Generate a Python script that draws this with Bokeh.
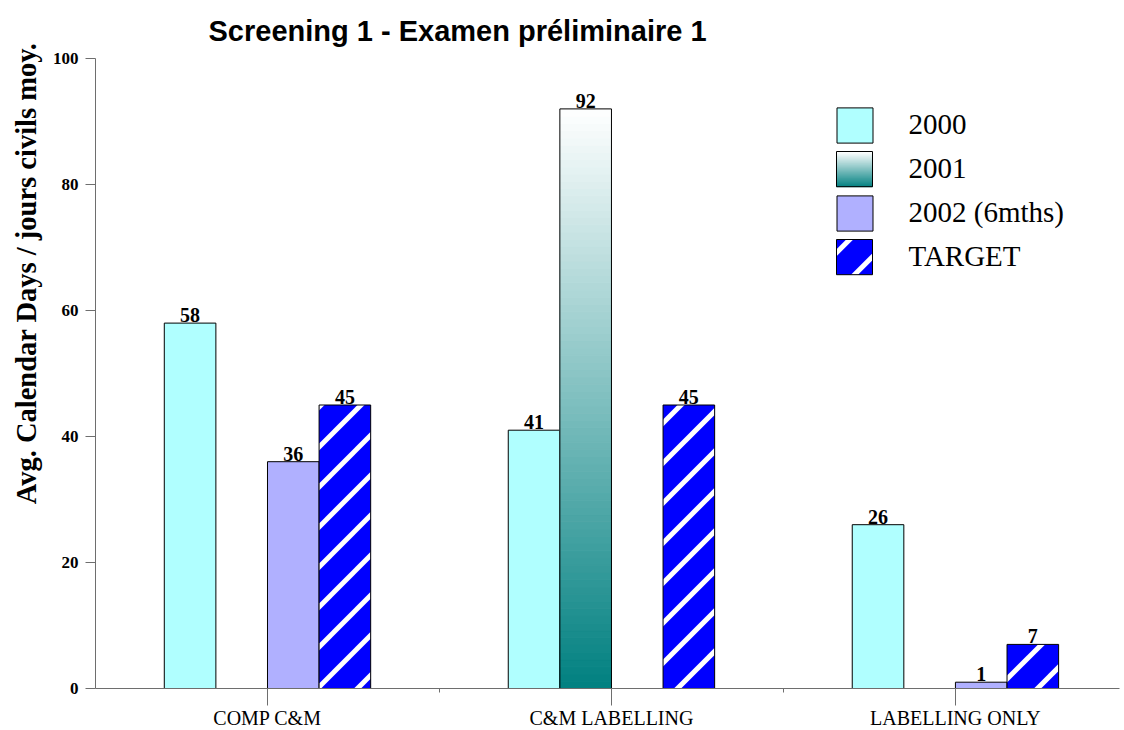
import math
from bokeh.plotting import figure
from bokeh.models import (Range1d, FixedTicker, Legend, LegendItem, Title,
                          ColumnDataSource)
from bokeh.embed import file_html
from bokeh.resources import INLINE
from bokeh.core.properties import value

# ---------------- data ----------------
categories = ["COMP C&M", "C&M LABELLING", "LABELLING ONLY"]
series_names = ["2000", "2001", "2002 (6mths)", "TARGET"]
values_2000 = [58, 41, 26]
values_2001 = [0, 92, 0]
values_2002 = [36, 0, 1]
values_target = [45, 45, 7]
y_ticks = [0, 20, 40, 60, 80, 100]
title_text = "Screening 1 -  Examen préliminaire 1"
y_label_text = "Avg. Calendar Days / jours civils moy."

# ---------------- style ----------------
SERIF = "Liberation Serif"
SANS = "Liberation Sans"
C_2000 = "#b0ffff"
C_2002 = "#b0b0ff"
C_TARGET = "#0000ff"
GRAD_BOTTOM = (0, 128, 128)
GRAD_TOP = (255, 255, 255)
AXIS_GRAY = "#6e6e6e"
STRIPE_PITCH = 40      # px, along the vertical
STRIPE_WIDTH = 5       # px, perpendicular
STRIPE_PHASE = 18

FRAME_W, FRAME_H = 1024, 630
X_MAX, Y_MAX = 2.977, 100
px2x = X_MAX / FRAME_W
px2y = Y_MAX / FRAME_H

centers = [i + 0.5 for i in range(len(categories))]
bar_w = 0.15
offsets = [-1.5 * bar_w, -0.5 * bar_w, 0.5 * bar_w, 1.5 * bar_w]


def grad_color(frac):
    r = [round(GRAD_BOTTOM[i] + (GRAD_TOP[i] - GRAD_BOTTOM[i]) * frac) for i in range(3)]
    return "#%02x%02x%02x" % tuple(r)


def clip(poly, sign, c):
    """keep points where sign*(y - x - c) >= 0"""
    out = []
    n = len(poly)
    for i in range(n):
        a, b = poly[i], poly[(i + 1) % n]
        fa = sign * (a[1] - a[0] - c)
        fb = sign * (b[1] - b[0] - c)
        if fa >= 0:
            out.append(a)
        if (fa >= 0) != (fb >= 0):
            t = fa / (fa - fb)
            out.append((a[0] + t * (b[0] - a[0]), a[1] + t * (b[1] - a[1])))
    return out


def stripe_polys(X0, X1, Y0, Y1, phase):
    """45-degree '/' stripes inside a pixel box, returned in data coordinates"""
    h = STRIPE_WIDTH / 2 * math.sqrt(2)
    xs, ys = [], []
    k0 = math.floor((Y0 - X1 - h - phase) / STRIPE_PITCH)
    k1 = math.ceil((Y1 - X0 + h - phase) / STRIPE_PITCH)
    for k in range(k0, k1 + 1):
        c = phase + k * STRIPE_PITCH
        poly = [(X0, Y0), (X1, Y0), (X1, Y1), (X0, Y1)]
        poly = clip(poly, 1, c - h)
        if poly:
            poly = clip(poly, -1, c + h)
        if len(poly) >= 3:
            xs.append([q[0] * px2x for q in poly])
            ys.append([q[1] * px2y for q in poly])
    return xs, ys


p = figure(frame_width=FRAME_W, frame_height=FRAME_H,
           min_border_left=95, min_border_right=1, min_border_top=58, min_border_bottom=42,
           x_range=Range1d(0, X_MAX), y_range=Range1d(0, Y_MAX),
           output_backend="svg", toolbar_location=None, tools="")
p.outline_line_color = None
p.xgrid.grid_line_color = None
p.ygrid.grid_line_color = None
p.background_fill_color = "white"
p.border_fill_color = "white"

# title
p.title.text = title_text
p.title.align = "left"
p.title.offset = 113
p.title.standoff = 24
p.title.text_font = SANS
p.title.text_font_style = "bold"
p.title.text_font_size = "29px"
p.title.text_color = "black"

# y label as a left-side title so it can be placed like the original
p.add_layout(Title(text=y_label_text, align="right", offset=-16, standoff=16,
                   text_font=SERIF, text_font_style="bold", text_font_size="28.5px",
                   text_color="black"), "left")


def bar_source(vals, off):
    xs = [c + off for c, v in zip(centers, vals) if v > 0]
    vs = [v for v in vals if v > 0]
    return ColumnDataSource(dict(left=[x - bar_w / 2 for x in xs],
                                 right=[x + bar_w / 2 for x in xs],
                                 top=vs, bottom=[0] * len(vs), x=xs,
                                 label=[str(v) for v in vs]))


src_2000 = bar_source(values_2000, offsets[0])
src_2001 = bar_source(values_2001, offsets[1])
src_2002 = bar_source(values_2002, offsets[2])
src_tgt = bar_source(values_target, offsets[3])

r2000 = p.quad(left="left", right="right", top="top", bottom="bottom", source=src_2000,
               fill_color=C_2000, line_color="black", line_width=1)

# gradient bars for 2001 built as stacked slices of each bar
N = 80
gl, gr, gt, gb, gc = [], [], [], [], []
for x, v in zip(src_2001.data["x"], src_2001.data["top"]):
    for k in range(N):
        gl.append(x - bar_w / 2)
        gr.append(x + bar_w / 2)
        gb.append(v * k / N)
        gt.append(v * (k + 1) / N)
        gc.append(grad_color((k + 0.5) / N))
p.quad(left="left", right="right", top="top", bottom="bottom",
       source=ColumnDataSource(dict(left=gl, right=gr, top=gt, bottom=gb, color=gc)),
       fill_color="color", line_color="color", line_width=1)
p.quad(left="left", right="right", top="top", bottom="bottom", source=src_2001,
       fill_color=None, line_color="black", line_width=1)

r2002 = p.quad(left="left", right="right", top="top", bottom="bottom", source=src_2002,
               fill_color=C_2002, line_color="black", line_width=1)

# TARGET: blue bars with white diagonal stripes
p.quad(left="left", right="right", top="top", bottom="bottom", source=src_tgt,
       fill_color=C_TARGET, line_color=None)
txs, tys = [], []
for l, r, t in zip(src_tgt.data["left"], src_tgt.data["right"], src_tgt.data["top"]):
    a, b = stripe_polys(l / px2x, r / px2x, 0, t / px2y, STRIPE_PHASE)
    txs += a
    tys += b
p.patches(xs=txs, ys=tys, fill_color="white", line_color=None)
p.quad(left="left", right="right", top="top", bottom="bottom", source=src_tgt,
       fill_color=None, line_color="black", line_width=1)

for s in (src_2000, src_2001, src_2002, src_tgt):
    p.text(x="x", y="top", text="label", source=s, text_align="center",
           text_baseline="bottom", y_offset=-1,
           text_font=value(SERIF), text_font_style="bold", text_font_size="20px",
           text_color="black")

# ---------------- axes ----------------
xa = p.xaxis[0]
xa.ticker = FixedTicker(ticks=centers, minor_ticks=[1, 2])
xa.major_label_overrides = {c: name for c, name in zip(centers, categories)}
xa.major_tick_out = 17
xa.major_tick_in = 0
xa.minor_tick_out = 4
xa.minor_tick_in = 0
xa.axis_line_color = AXIS_GRAY
xa.major_tick_line_color = AXIS_GRAY
xa.minor_tick_line_color = AXIS_GRAY
xa.major_label_text_font = SERIF
xa.major_label_text_font_size = "20px"
xa.major_label_text_color = "black"
xa.major_label_standoff = 1

ya = p.yaxis[0]
ya.ticker = FixedTicker(ticks=y_ticks, minor_ticks=[])
ya.major_tick_out = 10
ya.major_tick_in = 0
ya.axis_line_color = AXIS_GRAY
ya.major_tick_line_color = AXIS_GRAY
ya.major_label_text_font = SERIF
ya.major_label_text_font_style = "bold"
ya.major_label_text_font_size = "17px"
ya.major_label_text_color = "black"
ya.major_label_standoff = 7

# ---------------- legend ----------------
GW, GH, SP = 45, 44, 0
LEG_X = 736.5
leg_h = len(series_names) * GH + (len(series_names) - 1) * SP
LEG_TOP = FRAME_H - 44.6          # legend top, measured up from the frame bottom (px)
LEG_Y = LEG_TOP - leg_h


def swatch_box(i):
    row_top = LEG_TOP - i * (GH + SP)
    return (LEG_X + GW * 0.1, LEG_X + GW * 0.9, row_top - GH * 0.9, row_top - GH * 0.1)


# invisible stand-ins so custom swatches drawn underneath stay visible
r2001_leg = p.quad(left=[], right=[], top=[], bottom=[], fill_alpha=0, line_alpha=0)
rtgt_leg = p.quad(left=[], right=[], top=[], bottom=[], fill_alpha=0, line_alpha=0)

# gradient swatch for 2001
sw_l, sw_r, sw_bot, sw_top = swatch_box(1)
NS = 36
sl, sr, st, sb, sc = [], [], [], [], []
for k in range(NS):
    sl.append(sw_l * px2x)
    sr.append(sw_r * px2x)
    sb.append((sw_bot + (sw_top - sw_bot) * k / NS) * px2y)
    st.append((sw_bot + (sw_top - sw_bot) * (k + 1) / NS) * px2y)
    sc.append(grad_color((k + 0.5) / NS))
p.quad(left="left", right="right", top="top", bottom="bottom",
       source=ColumnDataSource(dict(left=sl, right=sr, top=st, bottom=sb, color=sc)),
       fill_color="color", line_color="color", line_width=1)
p.quad(left=[sw_l * px2x], right=[sw_r * px2x], top=[sw_top * px2y], bottom=[sw_bot * px2y],
       fill_color=None, line_color="black", line_width=1)

# striped swatch for TARGET
tl, tr, tb, tt = swatch_box(3)
p.quad(left=[tl * px2x], right=[tr * px2x], top=[tt * px2y], bottom=[tb * px2y],
       fill_color=C_TARGET, line_color=None)
a, b = stripe_polys(tl, tr, tb, tt, 22 + tb - tl)
p.patches(xs=a, ys=b, fill_color="white", line_color=None)
p.quad(left=[tl * px2x], right=[tr * px2x], top=[tt * px2y], bottom=[tb * px2y],
       fill_color=None, line_color="black", line_width=1)

legend = Legend(items=[LegendItem(label=n, renderers=[r]) for n, r in
                       zip(series_names, [r2000, r2001_leg, r2002, rtgt_leg])],
                location=(LEG_X, LEG_Y), orientation="vertical",
                glyph_width=GW, glyph_height=GH, label_height=GH, label_standoff=32,
                spacing=SP, padding=0, margin=0, border_line_alpha=0,
                background_fill_alpha=0, label_text_font=SERIF,
                label_text_font_size="29px", label_text_color="black")
p.add_layout(legend)

open("out.html", "w").write(file_html(p, INLINE))
